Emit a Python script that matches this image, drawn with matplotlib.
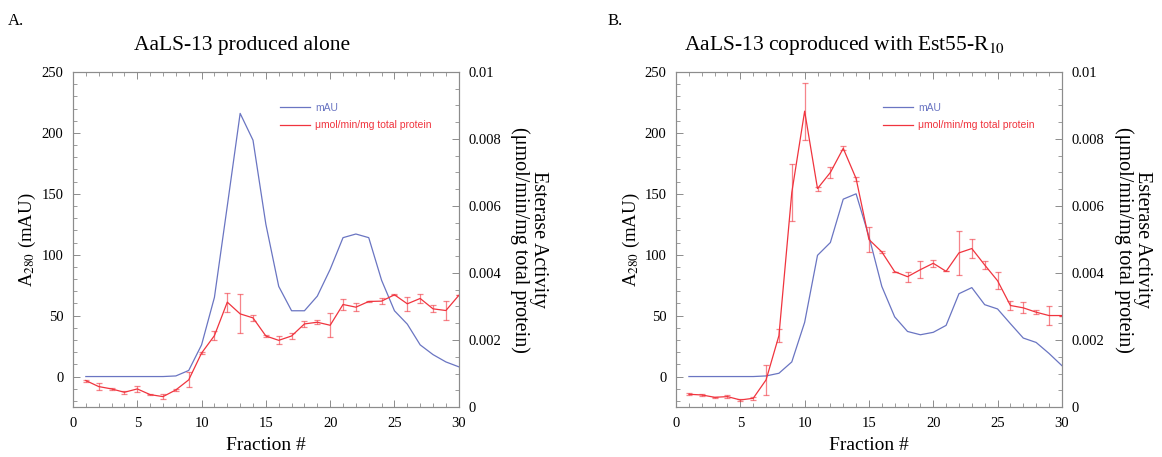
import matplotlib
matplotlib.use("Agg")
import matplotlib.pyplot as plt
from matplotlib.ticker import MultipleLocator

# fractions 1..30
fractions = list(range(1, 31))

# panel A - AaLS-13 produced alone
mau_a = [0, 0, 0, 0, 0, 0, 0, 0.5, 5, 26, 65, 140, 216, 194, 125, 74, 54, 54,
         66, 88, 114, 117, 114, 79, 54, 43, 26, 18, 12, 8]
act_a = [0.00079, 0.00061, 0.00054, 0.00044, 0.00054, 0.00037, 0.00031, 0.00051,
         0.00081, 0.00161, 0.00213, 0.00313, 0.00278, 0.00266, 0.00212, 0.00199,
         0.00212, 0.00248, 0.00253, 0.00244, 0.00306, 0.00298, 0.00315, 0.00316,
         0.00335, 0.00308, 0.00324, 0.00293, 0.00288, 0.00333]
err_a = [0.00003, 0.0001, 0.00002, 0.00004, 0.00008, 0.00002, 0.00008, 0.00002,
         0.00022, 0.00003, 0.00014, 0.00028, 0.00058, 0.0001, 0.00002, 0.00012,
         0.00008, 0.0001, 0.00006, 0.00036, 0.00015, 0.00012, 0.00002, 0.0001,
         0.00002, 0.0002, 0.00014, 0.0001, 0.00028, 0.0]

# panel B - AaLS-13 coproduced with Est55-R10
mau_b = [0, 0, 0, 0, 0, 0, 0.5, 2.7, 12, 44.5, 99.5, 110, 145.6, 150, 115, 74,
         49, 37, 34.3, 36.3, 42, 68, 73, 59, 55.5, 43.4, 31.6, 28, 19, 9]
act_b = [0.00038, 0.00036, 0.00029, 0.00031, 0.00021, 0.00026, 0.00081, 0.00213,
         0.0064, 0.00883, 0.00652, 0.0070, 0.00772, 0.00682, 0.0050, 0.00463,
         0.00404, 0.00389, 0.0041, 0.00429, 0.00405, 0.0046, 0.00473, 0.00424,
         0.00377, 0.00303, 0.00296, 0.00283, 0.00273, 0.00273]
err_b = [0.00003, 0.00004, 0.00002, 0.00004, 0.00003, 0.00004, 0.00045, 0.0002,
         0.00084, 0.00085, 0.00006, 0.00017, 0.00006, 0.00006, 0.00038, 0.00003,
         0.0, 0.00015, 0.00026, 0.0001, 0.0, 0.00066, 0.00028, 0.00012,
         0.00026, 0.00012, 0.00016, 0.00006, 0.00027, 0.0]

blue = '#6a75c2'
red = '#f0343e'
gray = '#8c8c8c'

plt.rcParams['font.family'] = ['Liberation Serif', 'DejaVu Serif']
plt.rcParams['mathtext.fontset'] = 'stix'

fig = plt.figure(figsize=(11.62, 4.57), dpi=100)

def panel(left, mau, act, err):
    ax = fig.add_axes([left, 0.1094, 0.332, 0.7331])
    ax2 = ax.twinx()
    l1, = ax.plot(fractions, mau, color=blue, lw=0.9, label='mAU')
    ax2.errorbar(fractions, act, yerr=err, fmt='none', ecolor=red, alpha=0.6,
                 elinewidth=0.9, capsize=2.5, capthick=0.9)
    l2, = ax2.plot(fractions, act, color=red, lw=0.9, label='μmol/min/mg total protein')
    ax.set_xlim(0, 30)
    ax.set_ylim(-25, 250)
    ax2.set_ylim(0, 0.01)
    ax.xaxis.set_major_locator(MultipleLocator(5))
    ax.xaxis.set_minor_locator(MultipleLocator(1))
    ax.yaxis.set_major_locator(MultipleLocator(50))
    ax.yaxis.set_minor_locator(MultipleLocator(10))
    ax2.yaxis.set_minor_locator(MultipleLocator(0.0005))
    ax2.set_yticks([0, 0.002, 0.004, 0.006, 0.008, 0.01])
    ax2.set_yticklabels(['0', '0.002', '0.004', '0.006', '0.008', '0.01'])
    for a in (ax, ax2):
        for s in a.spines.values():
            s.set_color(gray)
            s.set_linewidth(0.8)
        a.tick_params(which='both', direction='in', color=gray, labelsize=10.5, pad=7)
        a.tick_params(which='major', length=5, width=0.7)
        a.tick_params(which='minor', length=3, width=0.6)
    ax.tick_params(which='both', top=True, right=False)
    ax.set_xlabel('Fraction #', fontsize=14, labelpad=5)
    ax.set_ylabel('A$_{280}$ (mAU)', fontsize=13.5, labelpad=2)
    ax2.set_ylabel('Esterase Activity\n(μmol/min/mg total protein)', fontsize=14.5,
                   rotation=-90, labelpad=34, linespacing=0.95)
    ax.legend(handles=[l1, l2], loc='upper left', bbox_to_anchor=(0.512, 0.935),
              frameon=False, prop={'family': 'Liberation Sans', 'size': 7.5},
              handlelength=2.9, handletextpad=0.5, labelspacing=0.7,
              labelcolor=[blue, red])
    return ax, ax2

panel(0.0628, mau_a, act_a, err_a)
panel(0.5818, mau_b, act_b, err_b)

fig.text(0.007, 0.955, 'A.', fontsize=12, va='center')
fig.text(0.523, 0.955, 'B.', fontsize=12, va='center')
fig.text(0.208, 0.9, 'AaLS-13 produced alone', fontsize=15.5, ha='center', va='center')
fig.text(0.727, 0.9, 'AaLS-13 coproduced with Est55-R$_{10}$', fontsize=15.5,
         ha='center', va='center')

fig.savefig('out.png', dpi=100)
